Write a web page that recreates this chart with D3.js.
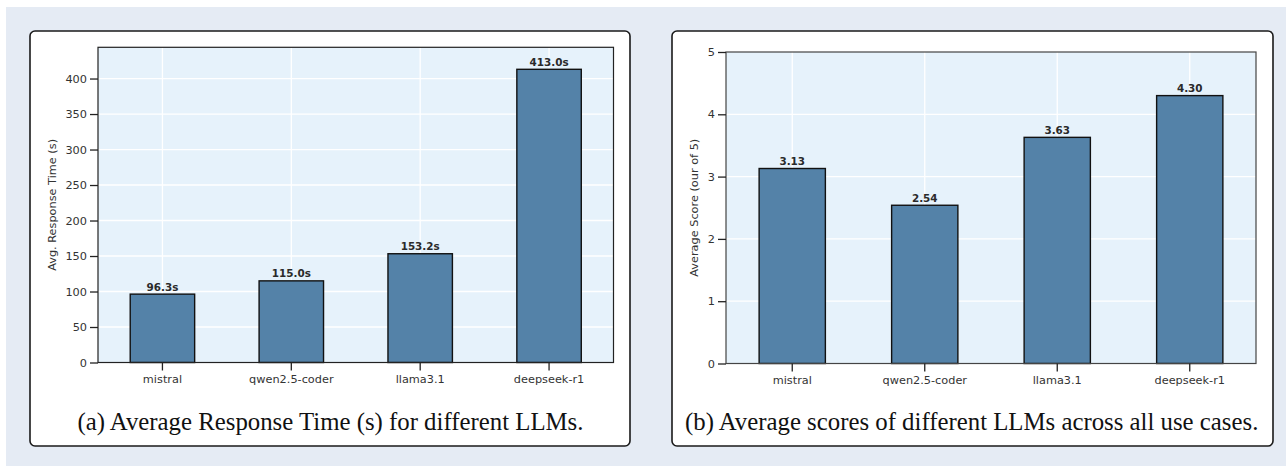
<!DOCTYPE html>
<html>
<head>
<meta charset="utf-8">
<script src="https://cdn.jsdelivr.net/npm/d3@7"></script>
<style>
  html, body { margin: 0; padding: 0; background: #fff; }
  svg { display: block; }
</style>
</head>
<body>
<svg id="chart" width="1286" height="466"></svg>
<script>
// data
const models = ["mistral", "qwen2.5-coder", "llama3.1", "deepseek-r1"];
const responseTimes = [96.3, 115.0, 153.2, 413.0];
const scores = [3.13, 2.54, 3.63, 4.30];
const timeTicks = [0, 50, 100, 150, 200, 250, 300, 350, 400];
const scoreTicks = [0, 1, 2, 3, 4, 5];

const svg = d3.select('#chart');

// page background
svg.append('rect')
    .attr('x', 6).attr('y', 7)
    .attr('width', 1280).attr('height', 459)
    .attr('fill', '#e5ebf4');

const panels = [
    {
        box: { x: 30, y: 31, w: 600, h: 415 },
        plot: { left: 98, right: 613.5, top: 47.3, bottom: 362.5 },
        values: responseTimes,
        yMax: 444,
        ticks: timeTicks,
        fmt: d => d.toFixed(1) + 's',
        ylabel: 'Avg. Response Time (s)',
        ylabelX: 52,
        caption: '(a) Average Response Time (s) for different LLMs.',
        captionX: 77.5,
        spine: '#222'
    },
    {
        box: { x: 672, y: 31, w: 601, h: 415 },
        plot: { left: 726, right: 1256, top: 52, bottom: 363.5 },
        values: scores,
        yMax: 5,
        ticks: scoreTicks,
        fmt: d => d.toFixed(2),
        ylabel: 'Average Score (our of 5)',
        ylabelX: 694,
        caption: '(b) Average scores of different LLMs across all use cases.',
        captionX: 685,
        spine: '#444'
    }
];

panels.forEach(p => {
    const g = svg.append('g');

    // panel card
    g.append('rect')
        .attr('x', p.box.x).attr('y', p.box.y)
        .attr('width', p.box.w).attr('height', p.box.h)
        .attr('rx', 5).attr('ry', 5)
        .attr('fill', '#fff')
        .attr('stroke', '#1a1a1a')
        .attr('stroke-width', 1.6);

    const x = d3.scaleBand()
        .domain(models)
        .range([p.plot.left, p.plot.right])
        .paddingInner(0.5)
        .paddingOuter(0.25);

    const y = d3.scaleLinear()
        .domain([0, p.yMax])
        .range([p.plot.bottom, p.plot.top]);

    // plot background
    g.append('rect')
        .attr('x', p.plot.left).attr('y', p.plot.top)
        .attr('width', p.plot.right - p.plot.left)
        .attr('height', p.plot.bottom - p.plot.top)
        .attr('fill', '#e6f2fb');

    // grid
    g.append('g').selectAll('line.h')
        .data(p.ticks.filter(t => t > 0 && t < p.yMax))
        .join('line')
        .attr('x1', p.plot.left).attr('x2', p.plot.right)
        .attr('y1', d => y(d)).attr('y2', d => y(d))
        .attr('stroke', '#fff').attr('stroke-width', 1.3);

    g.append('g').selectAll('line.v')
        .data(models)
        .join('line')
        .attr('x1', d => x(d) + x.bandwidth() / 2)
        .attr('x2', d => x(d) + x.bandwidth() / 2)
        .attr('y1', p.plot.top).attr('y2', p.plot.bottom)
        .attr('stroke', '#fff').attr('stroke-width', 1.3);

    // bars
    g.append('g').selectAll('rect')
        .data(models)
        .join('rect')
        .attr('x', d => x(d))
        .attr('y', (d, i) => y(p.values[i]))
        .attr('width', x.bandwidth())
        .attr('height', (d, i) => y(0) - y(p.values[i]))
        .attr('fill', '#5482a8')
        .attr('stroke', '#111')
        .attr('stroke-width', 1.4);

    // value labels
    g.append('g').selectAll('text')
        .data(models)
        .join('text')
        .attr('x', d => x(d) + x.bandwidth() / 2)
        .attr('y', (d, i) => y(p.values[i]) - 3.5)
        .attr('text-anchor', 'middle')
        .attr('font-family', 'DejaVu Sans')
        .attr('font-size', 10.4)
        .attr('font-weight', 'bold')
        .attr('fill', '#2a2a2a')
        .text((d, i) => p.fmt(p.values[i]));

    // spines
    g.append('rect')
        .attr('x', p.plot.left).attr('y', p.plot.top)
        .attr('width', p.plot.right - p.plot.left)
        .attr('height', p.plot.bottom - p.plot.top)
        .attr('fill', 'none')
        .attr('stroke', p.spine)
        .attr('stroke-width', 1.2);

    // axes
    const xAxis = d3.axisBottom(x).tickSize(8).tickPadding(4).tickSizeOuter(0);
    const yAxis = d3.axisLeft(y).tickValues(p.ticks).tickFormat(d3.format('d'))
        .tickSize(8).tickPadding(3).tickSizeOuter(0);

    const xg = g.append('g')
        .attr('transform', `translate(0,${p.plot.bottom})`)
        .call(xAxis);
    const yg = g.append('g')
        .attr('transform', `translate(${p.plot.left},0)`)
        .call(yAxis);

    [xg, yg].forEach(a => {
        a.select('.domain').remove();
        a.selectAll('line').attr('stroke', '#222').attr('stroke-width', 1.3);
        a.selectAll('text')
            .attr('font-family', 'DejaVu Sans')
            .attr('font-size', 11.3)
            .attr('fill', '#333');
    });

    // y label
    g.append('text')
        .attr('transform', `translate(${p.ylabelX},${(p.plot.top + p.plot.bottom) / 2}) rotate(-90)`)
        .attr('text-anchor', 'middle')
        .attr('dy', '0.35em')
        .attr('font-family', 'DejaVu Sans')
        .attr('font-size', 11.3)
        .attr('fill', '#333')
        .text(p.ylabel);

    // caption
    g.append('text')
        .attr('x', p.captionX)
        .attr('y', 429.5)
        .attr('font-family', 'Liberation Serif')
        .attr('font-size', 24.8)
        .attr('fill', '#111')
        .text(p.caption);
});
</script>
</body>
</html>
